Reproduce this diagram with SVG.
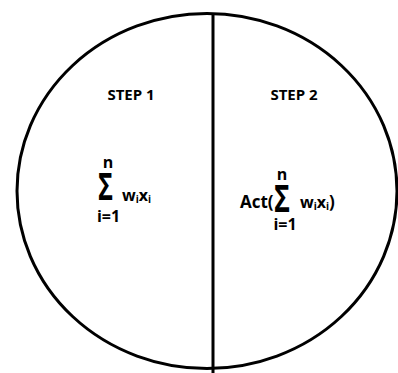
<svg xmlns="http://www.w3.org/2000/svg" width="398" height="373" viewBox="0 0 398 373">
<style>
text{font-family:"Open Sans","Liberation Sans",sans-serif;font-weight:bold;fill:#000}
.h{font-size:15px}
.m{font-size:16px}
.sg{font-size:38px}
.s{font-size:10px}
</style>
<rect width="398" height="373" fill="#fff"/>
<g id="circle">
<ellipse cx="207" cy="191" rx="190" ry="177.5" fill="none" stroke="#000" stroke-width="3"/>
</g>
<g id="connectors">
<line x1="213" y1="13" x2="213" y2="373" stroke="#000" stroke-width="3"/>
</g>
<g id="step1">
<text class="h" x="131" y="100" text-anchor="middle">STEP 1</text>
<text class="m" x="108" y="168" text-anchor="middle">n</text>
<text class="sg" x="98" y="200" textLength="15" lengthAdjust="spacingAndGlyphs">Σ</text>
<text class="m" x="108.5" y="222" text-anchor="middle">i=1</text>
<text class="m" x="122" y="201">w<tspan class="s" dy="2">i</tspan><tspan dy="-2">x</tspan><tspan class="s" dy="2">i</tspan></text>
</g>
<g id="step2">
<text class="h" x="294" y="100" text-anchor="middle">STEP 2</text>
<text class="m" x="240" y="208" style="font-size:17px">Act(</text>
<text class="m" x="282" y="180" text-anchor="middle">n</text>
<text class="sg" x="274" y="212" textLength="16" lengthAdjust="spacingAndGlyphs">Σ</text>
<text class="m" x="285" y="230" text-anchor="middle">i=1</text>
<text class="m" x="300" y="208">w<tspan class="s" dy="2">i</tspan><tspan dy="-2">x</tspan><tspan class="s" dy="2">i</tspan><tspan dy="-2" style="font-size:17px">)</tspan></text>
</g>
</svg>
